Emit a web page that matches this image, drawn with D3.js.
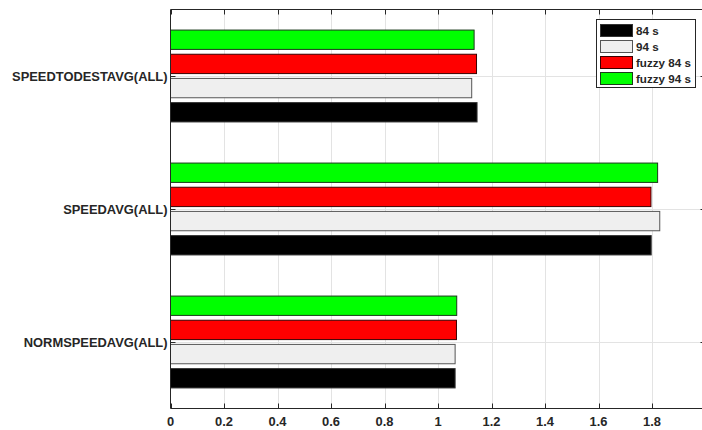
<!DOCTYPE html>
<html>
<head>
<meta charset="utf-8">
<script src="https://cdn.jsdelivr.net/npm/d3@7"></script>
<style>
  html, body { margin: 0; padding: 0; background: #fff; }
  svg { display: block; }
  text { font-family: "Liberation Sans", Arial, Helvetica, sans-serif; font-weight: bold; fill: #262626; }
</style>
</head>
<body>
<svg id="chart" width="702" height="430"></svg>
<script>
// ---- data ----
const categories = ["NORMSPEEDAVG(ALL)", "SPEEDAVG(ALL)", "SPEEDTODESTAVG(ALL)"];
const seriesNames = ["84 s", "94 s", "fuzzy 84 s", "fuzzy 94 s"];
const values84 = [1.064, 1.797, 1.146];
const values94 = [1.064, 1.829, 1.126];
const valuesFuzzy84 = [1.069, 1.796, 1.144];
const valuesFuzzy94 = [1.070, 1.821, 1.135];
const seriesColors = ["#000000", "#efefef", "#ff0000", "#00ff00"];
const seriesStrokes = ["#333333", "#555555", "#3a0000", "#1a3a1a"];
const xTickValues = [0, 0.2, 0.4, 0.6, 0.8, 1, 1.2, 1.4, 1.6, 1.8];
const xTickLabels = ["0", "0.2", "0.4", "0.6", "0.8", "1", "1.2", "1.4", "1.6", "1.8"];

const seriesValues = [values84, values94, valuesFuzzy84, valuesFuzzy94];

// ---- layout ----
const plotLeft = 170.5, plotRight = 705.5, plotTop = 9.5, plotBottom = 408.5;
const axisColor = "#262626";
const gridColor = "#e3e3e3";
const fontSize = 12.9;

const svg = d3.select("#chart");

const x = d3.scaleLinear().domain([0, 2]).range([plotLeft, plotRight]);
const yCat = d3.scaleBand()
  .domain(categories.slice().reverse())
  .range([plotTop, plotBottom])
  .paddingInner(0).paddingOuter(0);
const bw = yCat.bandwidth();
const groupHalf = 0.3636;
const yInner = d3.scaleBand()
  .domain(seriesNames.slice().reverse())
  .range([bw * (0.5 - groupHalf), bw * (0.5 + groupHalf)])
  .paddingInner(0.2).paddingOuter(0.1);

// grid
const grid = svg.append("g");
xTickValues.forEach(v => {
  if (v === 0) return;
  grid.append("line")
    .attr("x1", Math.round(x(v)) + 0.5).attr("x2", Math.round(x(v)) + 0.5)
    .attr("y1", plotTop).attr("y2", plotBottom)
    .attr("stroke", gridColor).attr("stroke-width", 1);
});
categories.forEach(c => {
  const yc = Math.round(yCat(c) + bw / 2) + 0.5;
  grid.append("line")
    .attr("x1", plotLeft).attr("x2", plotRight)
    .attr("y1", yc).attr("y2", yc)
    .attr("stroke", gridColor).attr("stroke-width", 1);
});

// bars
const bars = svg.append("g");
seriesNames.forEach((s, si) => {
  categories.forEach((c, ci) => {
    const v = seriesValues[si][ci];
    bars.append("rect")
      .attr("x", x(0))
      .attr("y", yCat(c) + yInner(s))
      .attr("width", x(v) - x(0))
      .attr("height", yInner.bandwidth())
      .attr("fill", seriesColors[si])
      .attr("stroke", seriesStrokes[si])
      .attr("stroke-width", 1);
  });
});

// axes box
const axes = svg.append("g");
function line(x1, y1, x2, y2) {
  axes.append("line").attr("x1", x1).attr("y1", y1).attr("x2", x2).attr("y2", y2)
    .attr("stroke", axisColor).attr("stroke-width", 1);
}
line(plotLeft, plotBottom, plotRight, plotBottom);
line(plotLeft, plotTop, plotRight, plotTop);
line(plotLeft, plotTop, plotLeft, plotBottom);
line(plotRight, plotTop, plotRight, plotBottom);

// x ticks (inward, top and bottom) and labels
const tickLen = 5;
xTickValues.forEach((v, i) => {
  const xx = Math.round(x(v)) + 0.5;
  line(xx, plotBottom, xx, plotBottom - tickLen);
  line(xx, plotTop, xx, plotTop + tickLen);
  axes.append("text")
    .attr("x", x(v)).attr("y", plotBottom + 17)
    .attr("text-anchor", "middle")
    .attr("font-size", fontSize)
    .text(xTickLabels[i]);
});

// y ticks and labels
categories.forEach(c => {
  const yc = Math.round(yCat(c) + bw / 2) + 0.5;
  line(plotLeft, yc, plotLeft + tickLen, yc);
  line(plotRight, yc, plotRight - tickLen, yc);
  axes.append("text")
    .attr("x", plotLeft - 3).attr("y", yc)
    .attr("dy", "0.35em")
    .attr("text-anchor", "end")
    .attr("font-size", fontSize)
    .text(c);
});

// legend
const lg = svg.append("g");
const lgX = 596.5, lgY = 19.5, lgW = 99, lgH = 68;
lg.append("rect").attr("x", lgX).attr("y", lgY).attr("width", lgW).attr("height", lgH)
  .attr("fill", "#fff").attr("stroke", axisColor).attr("stroke-width", 1);
const rowY = d3.scalePoint().domain(seriesNames).range([30.5, 78.5]);
seriesNames.forEach((s, si) => {
  const cy = rowY(s);
  lg.append("rect")
    .attr("x", 600.5).attr("y", cy - 6)
    .attr("width", 32).attr("height", 12)
    .attr("fill", seriesColors[si])
    .attr("stroke", seriesStrokes[si]).attr("stroke-width", 1);
  lg.append("text")
    .attr("x", 636).attr("y", cy)
    .attr("dy", "0.36em")
    .attr("font-size", fontSize * 0.9)
    .attr("fill", "#000")
    .text(s);
});
</script>
</body>
</html>
